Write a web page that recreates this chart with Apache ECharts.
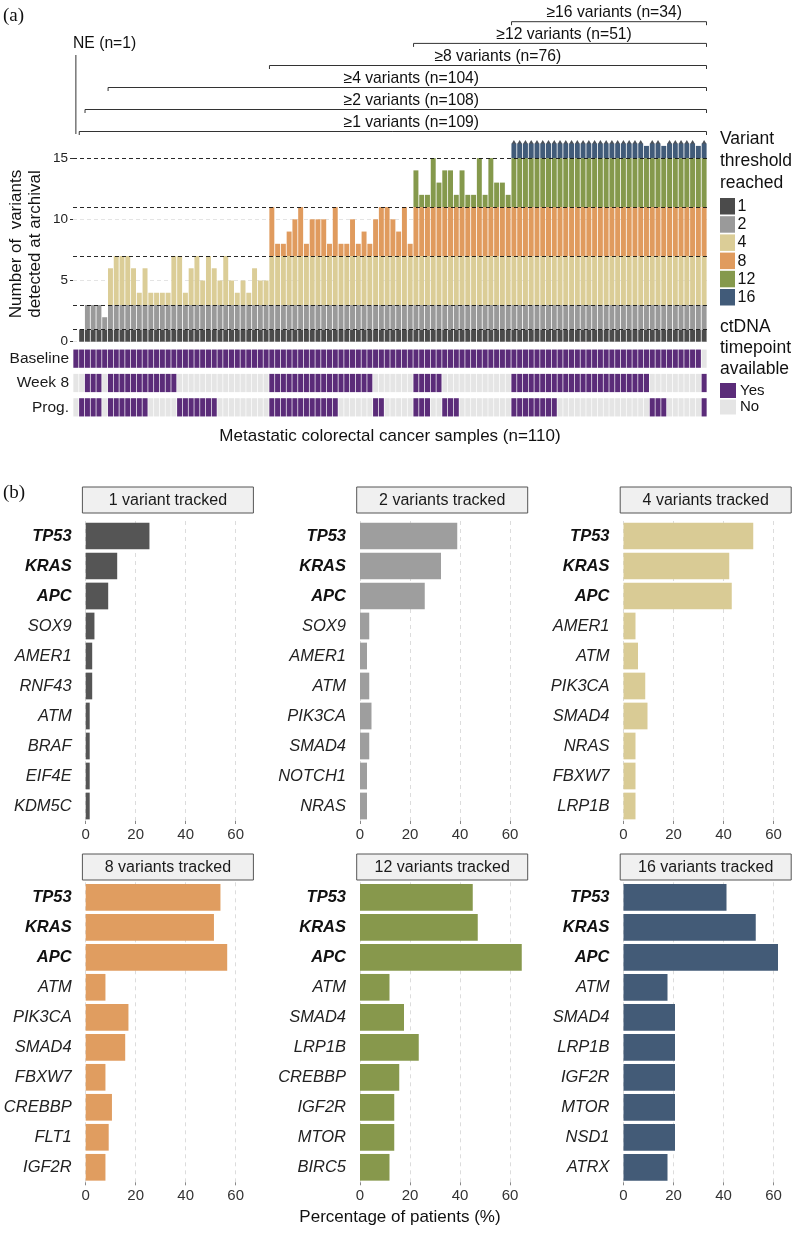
<!DOCTYPE html>
<html>
<head>
<meta charset="utf-8">
<script src="https://cdn.jsdelivr.net/npm/echarts@6/dist/echarts.min.js"></script>
<style>
  html, body { margin: 0; padding: 0; background: #fff; }
  #chart { width: 798px; height: 1235px; }
</style>
</head>
<body>
<div id="chart"></div>
<script>
// ---- Panel (a) data ----
// variants detected at archival per sample, sorted; values above 16 are shown capped (arrow)
const sampleTotals = [
  0, 1, 3, 3, 3, 2,
  6, 7, 7, 7, 6, 4, 6, 4, 4, 4, 4, 7, 7, 4, 6, 7, 5, 7, 6, 5, 7, 5, 4, 5, 4, 6, 5, 5,
  11, 8, 8, 9, 10, 11, 8, 10, 10, 10, 8, 11, 8, 8, 10, 8, 9, 8, 10, 11, 11, 10, 9, 11, 8,
  14, 12, 12, 15, 13, 14, 14, 12, 14, 12, 12, 15, 12, 15, 13, 13, 12,
  17, 17, 17, 17, 17, 17, 17, 17, 17, 17, 17, 17, 17, 17, 17, 17, 17, 17, 17, 17, 17, 17, 17,
  16, 17, 17, 16, 17, 17, 17, 17, 17, 16, 17
];
const CAP = 16;
const thresholdNames = ['1', '2', '4', '8', '12', '16'];
const thresholdLow = [0, 1, 3, 7, 11, 15];
const thresholdHigh = [1, 3, 7, 11, 15, 16];
const thresholdColors = ['#4b4b4b', '#9a9a9a', '#dbcd97', '#e09b5e', '#85994c', '#415b79'];
const thresholdLines = [1, 3, 7, 11, 15];
const yTicks = [0, 5, 10, 15];

// ctDNA timepoint availability, as runs of sample indices [from, to]
const timepoints = ['Baseline', 'Week 8', 'Prog.'];
const baselineRuns = [[0, 108]];
const week8Runs = [[2, 4], [6, 17], [34, 51], [59, 63], [76, 99], [109, 109]];
const progRuns = [[1, 4], [6, 12], [18, 24], [34, 45], [52, 53], [59, 61], [64, 66], [76, 83], [100, 102], [109, 109]];
const yesColor = '#5b2c79';
const noColor = '#e5e5e5';

// brackets above the bars
const brackets = [
  { label: '≥1 variants (n=109)', from: 1, to: 109, textAt: 58.2 },
  { label: '≥2 variants (n=108)', from: 2, to: 109, textAt: 58.2 },
  { label: '≥4 variants (n=104)', from: 6, to: 109, textAt: 58.2 },
  { label: '≥8 variants (n=76)', from: 34, to: 109, textAt: 73.2 },
  { label: '≥12 variants (n=51)', from: 59, to: 109, textAt: 84.7 },
  { label: '≥16 variants (n=34)', from: 76, to: 109, textAt: 93.4 }
];

// ---- Panel (b) data ----
const panelTitles = ['1 variant tracked', '2 variants tracked', '4 variants tracked',
  '8 variants tracked', '12 variants tracked', '16 variants tracked'];
const panelGenes = [
  ['TP53', 'KRAS', 'APC', 'SOX9', 'AMER1', 'RNF43', 'ATM', 'BRAF', 'EIF4E', 'KDM5C'],
  ['TP53', 'KRAS', 'APC', 'SOX9', 'AMER1', 'ATM', 'PIK3CA', 'SMAD4', 'NOTCH1', 'NRAS'],
  ['TP53', 'KRAS', 'APC', 'AMER1', 'ATM', 'PIK3CA', 'SMAD4', 'NRAS', 'FBXW7', 'LRP1B'],
  ['TP53', 'KRAS', 'APC', 'ATM', 'PIK3CA', 'SMAD4', 'FBXW7', 'CREBBP', 'FLT1', 'IGF2R'],
  ['TP53', 'KRAS', 'APC', 'ATM', 'SMAD4', 'LRP1B', 'CREBBP', 'IGF2R', 'MTOR', 'BIRC5'],
  ['TP53', 'KRAS', 'APC', 'ATM', 'SMAD4', 'LRP1B', 'IGF2R', 'MTOR', 'NSD1', 'ATRX']
];
const panelValues = [
  [25.5, 12.6, 9.0, 3.5, 2.6, 2.6, 1.6, 1.6, 1.6, 1.6],
  [38.9, 32.4, 25.9, 3.7, 2.8, 3.7, 4.6, 3.7, 2.8, 2.8],
  [51.9, 42.3, 43.3, 4.8, 5.8, 8.7, 9.6, 4.8, 4.8, 4.8],
  [53.9, 51.3, 56.6, 7.9, 17.1, 15.8, 7.9, 10.5, 9.2, 7.9],
  [45.1, 47.1, 64.7, 11.8, 17.6, 23.5, 15.7, 13.7, 13.7, 11.8],
  [41.2, 52.9, 61.8, 17.6, 20.6, 20.6, 20.6, 20.6, 20.6, 17.6]
];
const panelColors = ['#555555', '#9e9e9e', '#d9cb95', '#e09d60', '#87984c', '#435b77'];

// ---- layout ----
const FONT = '"Liberation Sans", Arial, sans-serif';
const SERIF = '"Liberation Serif", "Times New Roman", serif';
const mainGrid = { left: 73, right: 91, top: 136.1, height: 205.6 };
const yMax = 16.8;
const panelZeroX = [85.7, 360, 623.5];
const panelRowTop = [521, 882.3];
const stripTop = [487, 854];

const n = sampleTotals.length;
const sampleIdx = sampleTotals.map((_, i) => String(i));

function segment(total, k) {
  if (k === thresholdNames.length - 1 && total > CAP) return 1.2; // capped bars
  return Math.max(0, Math.min(total, thresholdHigh[k]) - thresholdLow[k]);
}

function runsToFlags(runs) {
  const flags = new Array(n).fill(0);
  runs.forEach(([a, b]) => { for (let i = a; i <= b; i++) flags[i] = 1; });
  return flags;
}
const availability = [runsToFlags(baselineRuns), runsToFlags(week8Runs), runsToFlags(progRuns)];
const cellData = [];
availability.forEach((flags, r) => flags.forEach((f, c) => cellData.push([c, r, f])));

const chart = echarts.init(document.getElementById('chart'), null, { renderer: 'canvas' });

const grids = [
  mainGrid,
  { left: 73, right: 91, top: 346.5, height: 73 }
];
const xAxes = [
  { type: 'category', gridIndex: 0, data: sampleIdx, show: false },
  { type: 'category', gridIndex: 1, data: sampleIdx, show: false }
];
const yAxes = [
  {
    type: 'value', gridIndex: 0, min: 0, max: yMax, interval: 5,
    axisLine: { show: false },
    axisTick: { show: true, length: 3, customValues: yTicks, lineStyle: { color: '#333' } },
    axisLabel: { customValues: yTicks, fontSize: 13.5, color: '#222', margin: 5 },
    splitLine: { show: true, showMaxLine: false, lineStyle: { color: '#dddddd', type: [4, 3], width: 0.8 } }
  },
  {
    type: 'category', gridIndex: 1, data: timepoints, inverse: true,
    axisLine: { show: false }, axisTick: { show: false },
    axisLabel: { fontSize: 15.5, color: '#1a1a1a', margin: 4 }
  }
];

const series = thresholdNames.map((name, k) => ({
  name: name,
  type: 'bar',
  stack: 'variants',
  xAxisIndex: 0, yAxisIndex: 0,
  barCategoryGap: '14%',
  itemStyle: { color: thresholdColors[k] },
  data: sampleTotals.map(t => segment(t, k))
}));

series.push({
  type: 'scatter',
  xAxisIndex: 0, yAxisIndex: 0,
  symbol: 'triangle',
  symbolSize: [4.5, 3.6],
  itemStyle: { color: '#1c2430' },
  z: 4,
  data: sampleTotals.map((t, i) => t > CAP ? [i, 16.33] : null).filter(Boolean),
  markLine: {
    silent: true,
    symbol: ['none', 'none'],
    label: { show: false },
    lineStyle: { color: '#111', type: [4, 3], width: 0.9 },
    data: thresholdLines.map(v => ({ yAxis: v }))
  }
});

series.push({
  type: 'custom',
  xAxisIndex: 1, yAxisIndex: 1,
  data: cellData,
  renderItem: (params, api) => {
    const p = api.coord([api.value(0), api.value(1)]);
    const bw = api.size([1, 0])[0];
    const bh = api.size([0, 1])[1];
    const h = bh * 0.75;
    return {
      type: 'rect',
      shape: { x: p[0] - bw / 2 + 0.35, y: p[1] - h / 2, width: bw - 0.7, height: h },
      style: { fill: api.value(2) ? yesColor : noColor }
    };
  }
});

// panel (b) small multiples
panelTitles.forEach((title, k) => {
  const row = Math.floor(k / 3), col = k % 3;
  const gi = grids.length;
  grids.push({ left: panelZeroX[col], width: 150, top: panelRowTop[row], height: 300 });
  xAxes.push({
    type: 'value', gridIndex: gi, min: 0, max: 60, interval: 20,
    axisLine: { show: false },
    axisTick: { show: true, length: 3, lineStyle: { color: '#888' } },
    axisLabel: { fontSize: 15, color: '#333', margin: 6 },
    splitLine: { show: true, lineStyle: { color: '#d9d9d9', type: [4, 4], width: 0.9 } }
  });
  yAxes.push({
    type: 'category', gridIndex: gi, data: panelGenes[k], inverse: true,
    axisLine: { show: false }, axisTick: { show: false },
    axisLabel: {
      margin: 14,
      formatter: (v, i) => (i < 3 ? '{b|' + v + '}' : '{i|' + v + '}'),
      rich: {
        b: { fontSize: 16.5, fontStyle: 'italic', fontWeight: 'bold', color: '#111', fontFamily: FONT },
        i: { fontSize: 16.5, fontStyle: 'italic', color: '#222', fontFamily: FONT }
      }
    }
  });
  series.push({
    type: 'bar',
    xAxisIndex: gi, yAxisIndex: gi,
    barCategoryGap: '11%',
    clip: false,
    itemStyle: { color: panelColors[k] },
    data: panelValues[k]
  });
});

chart.setOption({
  animation: false,
  backgroundColor: '#fff',
  textStyle: { fontFamily: FONT },
  grid: grids,
  xAxis: xAxes,
  yAxis: yAxes,
  series: series
});

// ---- annotations positioned through the axis scales ----
const x0 = chart.convertToPixel({ xAxisIndex: 0 }, 0);
const x1 = chart.convertToPixel({ xAxisIndex: 0 }, 1);
const band = x1 - x0;
const colLeft = c => x0 + (c - 0.5) * band;
const colRight = c => x0 + (c + 0.5) * band;
const colCenter = c => x0 + c * band;

const graphics = [];
const text = (x, y, s, opts = {}) => graphics.push({
  type: 'text', x: x, y: y, silent: true,
  rotation: opts.rotation || 0,
  style: {
    text: s, fill: opts.color || '#111', font: (opts.weight || 'normal') + ' ' + (opts.size || 16) + 'px ' + (opts.family || FONT),
    textAlign: opts.align || 'left', textVerticalAlign: 'middle', lineHeight: opts.lineHeight
  }
});
const line = (xa, ya, xb, yb, color = '#333', w = 1) => graphics.push({
  type: 'line', silent: true, shape: { x1: xa, y1: ya, x2: xb, y2: yb }, style: { stroke: color, lineWidth: w }
});
const rect = (x, y, w, h, fill, stroke) => graphics.push({
  type: 'rect', silent: true, shape: { x: x, y: y, width: w, height: h },
  style: { fill: fill, stroke: stroke || null, lineWidth: stroke ? 1 : 0 }
});

text(3, 16, '(a)', { family: SERIF, size: 19 });
text(3, 493, '(b)', { family: SERIF, size: 19 });

const bracketY = [131.5, 109.5, 87.5, 65.5, 43.4, 21.7];
brackets.forEach((b, i) => {
  const y = bracketY[i];
  const xa = colLeft(b.from) + 0.5, xb = colRight(b.to) - 0.5;
  line(xa, y, xb, y);
  line(xa, y, xa, y + 3.5);
  line(xb, y, xb, y + 3.5);
  text(colCenter(b.textAt), y - 9, b.label, { size: 15.7, align: 'center' });
});
// NE sample
line(colCenter(0), 55, colCenter(0), 134);
text(73, 44, 'NE (n=1)', { size: 15.7 });

// axis titles
text(26, 244, 'Number of  variants\ndetected at archival', { size: 17, align: 'center', rotation: Math.PI / 2, lineHeight: 19 });
text((mainGrid.left + 707) / 2, 436, 'Metastatic colorectal cancer samples (n=110)', { size: 17, align: 'center' });
text(400, 1217, 'Percentage of patients (%)', { size: 17, align: 'center' });

// legends
['Variant', 'threshold', 'reached'].forEach((s, i) => text(720, 139 + i * 22, s, { size: 17.5 }));
thresholdNames.forEach((name, k) => {
  const y = 198 + k * 18.2;
  rect(720, y, 15, 16.5, thresholdColors[k]);
  text(737.5, y + 8.5, name, { size: 16 });
});
['ctDNA', 'timepoint', 'available'].forEach((s, i) => text(720, 327.5 + i * 21, s, { size: 17.5 }));
[['Yes', yesColor], ['No', noColor]].forEach(([s, c], i) => {
  const y = 383 + i * 16.5;
  rect(720, y, 16, 15, c);
  text(740, y + 7.5, s, { size: 15 });
});

// facet strips
panelTitles.forEach((title, k) => {
  const row = Math.floor(k / 3), col = k % 3;
  const sx = panelZeroX[col] - 3.3;
  rect(sx, stripTop[row], 171, 26, '#f0f0f0', '#555');
  text(sx + 85.5, stripTop[row] + 13.5, title, { size: 16, align: 'center', color: '#1a1a1a' });
});

chart.setOption({ graphic: graphics });
</script>
</body>
</html>
